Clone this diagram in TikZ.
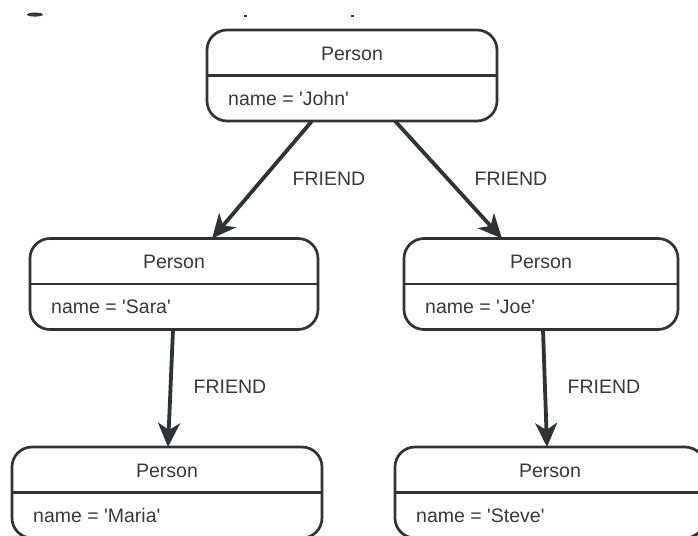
\documentclass[tikz,border=0pt]{standalone}
\usepackage{fontspec}
\setmainfont{Liberation Sans}
\usetikzlibrary{arrows.meta}
\definecolor{ink}{HTML}{303336}
\definecolor{txt}{HTML}{383838}
\begin{document}
\begin{tikzpicture}[x=1pt,y=-1pt,
  personbox/.style={draw=ink, line width=2.7pt, rounded corners=20pt,
    minimum height=91pt, inner sep=0pt, outer sep=0pt},
  divider/.style={draw=ink, line width=2.7pt},
  lbl/.style={text=txt, font=\fontsize{19.5}{23}\selectfont, inner sep=0pt,
    text height=14pt, text depth=4pt},
  rel/.style={draw=ink, line width=3.8pt,
    -{Stealth[length=24pt,width=22pt,inset=7pt]}},
]
\useasboundingbox (0,0) rectangle (698,535);
\clip (0,0) rectangle (698,535);

% descenders of a heading line above the picture
\fill[txt] (35,14.6) ellipse [x radius=8pt, y radius=2pt];
\fill[txt] (243.7,14.7) rectangle ++(2.8,2.8);
\fill[txt] (350.7,14.7) rectangle ++(2.8,2.8);

% person boxes
\node[personbox, minimum width=290pt] (john)  at (352,75.5) {};
\node[personbox, minimum width=288pt] (sara)  at (174,284) {};
\node[personbox, minimum width=274pt] (joe)   at (541,284) {};
\node[personbox, minimum width=310pt] (maria) at (167,492.5) {};
\node[personbox, minimum width=310pt] (steve) at (550,492.5) {};

\foreach \p/\nm in {john/John, sara/Sara, joe/Joe, maria/Maria, steve/Steve}{
  \draw[divider] (\p.west) -- (\p.east);
  \node[lbl] (\p-label) at ([yshift=-25pt]\p.north) {Person};
  \node[lbl, anchor=west] (\p-name) at ([xshift=21pt,yshift=21pt]\p.south west)
    {name = \textquotesingle\nm\textquotesingle};
}

% FRIEND relationships
\draw[rel] ([xshift=-40pt]john.south) -- ([xshift=38pt]sara.north);
\draw[rel] ([xshift=43pt]john.south) -- ([xshift=-39pt]joe.north);
\draw[rel] ([xshift=-1pt]sara.south) -- ([xshift=1pt]maria.north);
\draw[rel] ([xshift=2pt]joe.south) -- ([xshift=-3pt]steve.north);

\node[lbl] (r1) at (329,180) {FRIEND};
\node[lbl] (r2) at (511,180) {FRIEND};
\node[lbl] (r3) at (230,388) {FRIEND};
\node[lbl] (r4) at (604,388) {FRIEND};
\end{tikzpicture}
\end{document}
